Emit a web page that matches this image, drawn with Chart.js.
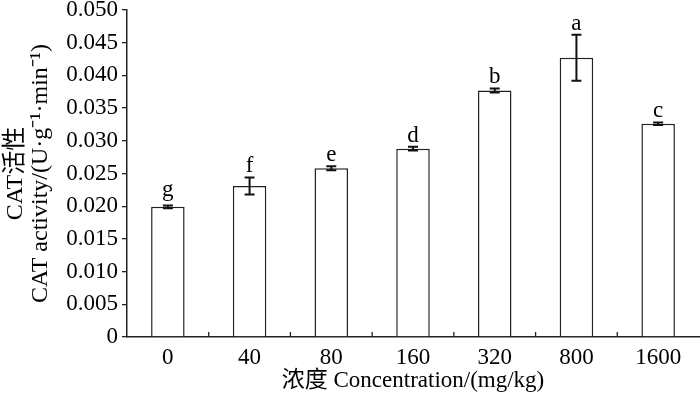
<!DOCTYPE html>
<html><head><meta charset="utf-8">
<script src="https://cdn.jsdelivr.net/npm/chart.js@4/dist/chart.umd.min.js"></script>
<style>html,body{margin:0;padding:0;background:#fff;}#wrap{width:700px;height:395px;}</style>
</head><body><div id="wrap"><canvas id="c" width="700" height="395"></canvas></div>
<script>
const categories = ["0","40","80","160","320","800","1600"];
const values = [0.0199,0.0231,0.0258,0.0288,0.0377,0.0427,0.0326];
const errors = [0.0002,0.0013,0.0003,0.0003,0.0003,0.0035,0.0002];
const letters = ["g","f","e","d","b","a","c"];
const yTicks = [0,0.005,0.010,0.015,0.020,0.025,0.030,0.035,0.040,0.045,0.050];

const FONT = "'Liberation Serif','Times New Roman','Noto Sans CJK SC',serif";

const overlay = {
  id:'overlay',
  afterDatasetsDraw(chart){
    const ctx = chart.ctx, x = chart.scales.x, y = chart.scales.y;
    const meta = chart.getDatasetMeta(0);
    ctx.save();
    ctx.strokeStyle = '#111'; ctx.lineWidth = 2;
    meta.data.forEach((bar,i)=>{
      const cx = bar.x, top = y.getPixelForValue(values[i]+errors[i]), bot = y.getPixelForValue(values[i]-errors[i]);
      ctx.beginPath();
      ctx.moveTo(cx,top); ctx.lineTo(cx,bot);
      ctx.moveTo(cx-5,top); ctx.lineTo(cx+5,top);
      ctx.moveTo(cx-5,bot); ctx.lineTo(cx+5,bot);
      ctx.stroke();
      ctx.fillStyle = '#000';
      ctx.font = "23px " + FONT;
      ctx.textAlign = 'center'; ctx.textBaseline = 'alphabetic';
      const m = ctx.measureText(letters[i]);
      ctx.fillText(letters[i], cx, top - 5 - m.actualBoundingBoxDescent);
    });
    // inward x ticks at category boundaries
    ctx.lineWidth = 1.3; ctx.strokeStyle = '#222';
    for(let i=1;i<categories.length;i++){
      const px = (x.getPixelForValue(i-1)+x.getPixelForValue(i))/2;
      ctx.beginPath(); ctx.moveTo(px, y.bottom); ctx.lineTo(px, y.bottom-5); ctx.stroke();
    }
    ctx.restore();
  }
};

new Chart(document.getElementById('c'),{
  type:'bar',
  data:{labels:categories,datasets:[{data:values,backgroundColor:'#fff',borderColor:'#222',borderWidth:1.5,borderSkipped:'bottom',categoryPercentage:1,barPercentage:0.41}]},
  options:{
    responsive:false,animation:false,
    layout:{padding:{top:10,right:1,left:0,bottom:0}},
    plugins:{legend:{display:false},tooltip:{enabled:false}},
    scales:{
      x:{
        grid:{display:false,drawTicks:false},
        border:{display:true,color:'#222',width:1.5},
        ticks:{color:'#000',font:{family:FONT,size:23},padding:7},
        title:{display:true,text:'浓度 Concentration/(mg/kg)',color:'#000',font:{family:FONT,size:23},padding:{top:0,bottom:0}},
        afterFit(s){s.height=58; s.paddingLeft=0; s.paddingRight=0;}
      },
      y:{
        min:0,max:0.05,
        afterBuildTicks(s){s.ticks = yTicks.map(v=>({value:v}));},
        grid:{drawOnChartArea:false,drawTicks:true,tickLength:5,color:'#222',lineWidth:1.3},
        border:{display:true,color:'#222',width:1.5},
        ticks:{color:'#000',font:{family:FONT,size:23},padding:4,callback:v=> v===0?'0':v.toFixed(3)},
        title:{display:true,text:['CAT活性','CAT activity/(U·g⁻¹·min⁻¹)'],color:'#000',font:{family:FONT,size:24,lineHeight:1.05},padding:{top:3,bottom:0}},
        afterFit(s){s.width=127; s.paddingTop=0; s.paddingBottom=0;}
      }
    }
  },
  plugins:[overlay]
});
</script></body></html>
